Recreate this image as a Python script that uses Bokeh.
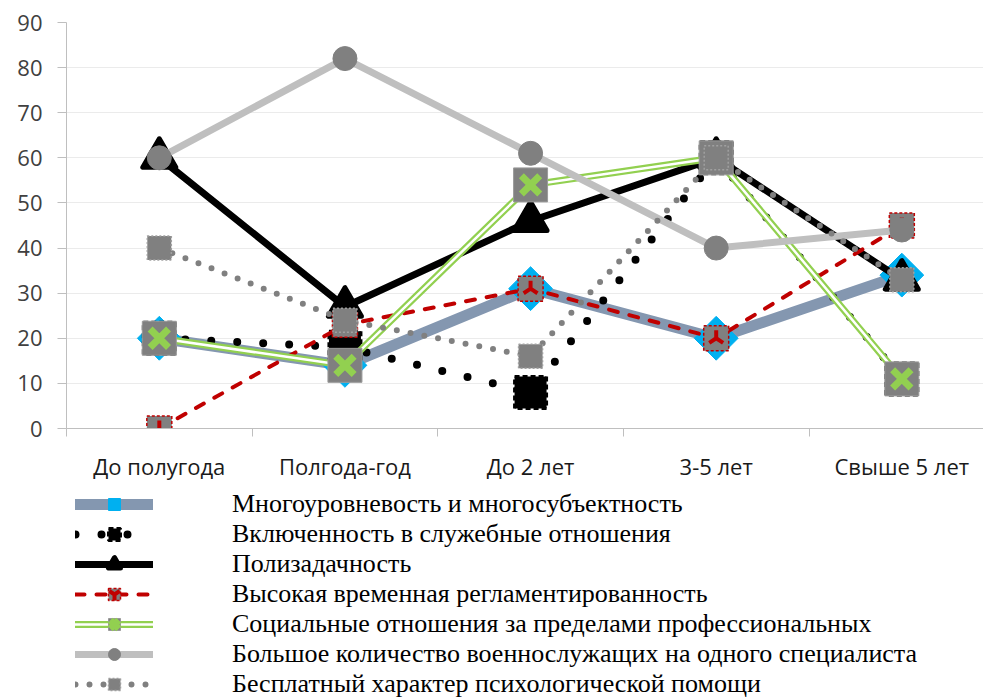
import numpy as np
from bokeh.plotting import figure
from bokeh.layouts import column
from bokeh.models import Range1d, FixedTicker, Legend, LegendItem
from bokeh.embed import file_html
from bokeh.resources import INLINE

categories = ["До полугода", "Полгода-год", "До 2 лет", "3-5 лет", "Свыше 5 лет"]
multi = [20, 14, 31, 20, 34]
incl = [20, 18, 8, 60, 11]
poly = [60, 27, 46, 60, 33]
timereg = [0, 23, 31, 20, 45]
social = [20, 14, 54, 60, 11]
many = [60, 82, 61, 40, 44]
free = [40, 24, 16, 60, 33]
series_names = [
    "Многоуровневость и многосубъектность",
    "Включенность в служебные отношения",
    "Полизадачность",
    "Высокая временная регламентированность",
    "Социальные отношения за пределами профессиональных",
    "Большое количество военнослужащих на одного специалиста",
    "Бесплатный характер психологической помощи",
]
y_ticks = [0, 10, 20, 30, 40, 50, 60, 70, 80, 90]

x = list(range(len(categories)))


def draw_series(f):
    r1l = f.line(x, multi, line_color="#8497B0", line_width=11, line_cap="round", line_join="round")
    r1m = f.scatter(x, multi, marker="square", angle=np.pi / 4, size=31,
                    fill_color="#00B0F0", line_color="#00B0F0")
    r2l = f.line(x, incl, line_color="black", line_width=8, line_dash="0 26", line_cap="round")
    r2m = f.scatter(x, incl, marker="square", size=32, fill_color="black", line_color="black",
                    line_width=3, line_dash="5 3")
    r3l = f.line(x, poly, line_color="black", line_width=7, line_cap="round", line_join="round")
    r3m = f.scatter(x, poly, marker="triangle", size=33, fill_color="black", line_color="black",
                    line_width=5, line_join="round")
    r4l = f.line(x, timereg, line_color="#C00000", line_width=4, line_dash="9 12", line_cap="round")
    r4m = f.scatter(x, timereg, marker="square", size=25, fill_color="#808080", line_color="#C00000",
                    line_width=1.5, line_dash="3 2")
    r4c = f.scatter(x, timereg, marker="y", angle=np.pi, size=16, line_color="#C00000", line_width=4)
    r5g = f.line(x, social, line_color="#92D050", line_width=7, line_cap="round", line_join="round")
    r5w = f.line(x, social, line_color="white", line_width=2.5, line_cap="round", line_join="round")
    r5m = f.scatter(x, social, marker="square", size=34, fill_color="#808080", line_color="#9A9A9A",
                    line_width=1)
    r5x = f.scatter(x, social, marker="x", size=26, line_color="#92D050", line_width=7)
    r6l = f.line(x, many, line_color="#BFBFBF", line_width=7, line_cap="round", line_join="round")
    r6m = f.scatter(x, many, marker="circle", size=24, fill_color="#808080", line_color="#808080")
    r7l = f.line(x, free, line_color="#808080", line_width=6, line_dash="0 14", line_cap="round")
    r7m = f.scatter(x, free, marker="square", size=24, fill_color="#808080", line_color="#A0A0A0",
                    line_width=1.5, line_dash="2 2")
    return [[r1l, r1m], [r2l, r2m], [r3l, r3m], [r4l, r4m, r4c], [r5g, r5w, r5m, r5x],
            [r6l, r6m], [r7l, r7m]]


# ---- main chart ----
main = figure(width=983, height=483, output_backend="svg", toolbar_location=None,
              x_range=Range1d(-0.5, 4.44), y_range=Range1d(0, 90),
              min_border_left=66, min_border_right=0, min_border_top=22,
              min_border_bottom=54)
main.outline_line_color = None
main.background_fill_color = "white"
main.border_fill_color = "white"
draw_series(main)

xa = main.xaxis[0]
xa.ticker = FixedTicker(ticks=x, minor_ticks=[i - 0.5 for i in range(len(categories) + 1)])
xa.major_label_overrides = {i: c for i, c in enumerate(categories)}
xa.major_tick_in = 0
xa.major_tick_out = 0
xa.minor_tick_in = 0
xa.minor_tick_out = 8
xa.minor_tick_line_color = "#BFBFBF"
xa.axis_line_color = "#BFBFBF"
xa.major_label_standoff = 14
xa.major_label_text_font = "Open Sans"
xa.major_label_text_font_size = "22px"
xa.major_label_text_color = "#1a1a1a"

ya = main.yaxis[0]
ya.ticker = FixedTicker(ticks=y_ticks)
ya.major_tick_in = 0
ya.major_tick_out = 9
ya.minor_tick_line_color = None
ya.major_tick_line_color = "#BFBFBF"
ya.axis_line_color = "#BFBFBF"
ya.major_label_standoff = 15
ya.major_label_text_font = "Open Sans"
ya.major_label_text_font_size = "22px"
ya.major_label_text_color = "#404040"

main.xgrid.visible = False
main.ygrid.ticker = FixedTicker(ticks=y_ticks)
main.ygrid.grid_line_color = "#EBEBEB"
main.ygrid.grid_line_width = 1

# ---- legend strip (same series, kept out of its view; only the legend shows) ----
leg = figure(width=983, height=216, output_backend="svg", toolbar_location=None,
             x_range=Range1d(100, 101), y_range=Range1d(100, 101),
             x_axis_type=None, y_axis_type=None,
             min_border_left=0, min_border_right=0, min_border_top=0, min_border_bottom=0)
leg.outline_line_color = None
leg.xgrid.visible = False
leg.ygrid.visible = False
groups = draw_series(leg)
items = [LegendItem(label=n, renderers=g) for n, g in zip(series_names, groups)]
legend = Legend(items=items, location=(9, 0), orientation="vertical",
                glyph_width=78, glyph_height=30, label_height=30, label_standoff=79,
                spacing=0, padding=0, margin=0, border_line_alpha=0,
                background_fill_alpha=0, label_text_font="Liberation Serif",
                label_text_font_size="26px", label_text_color="black",
                label_text_baseline="middle")
leg.add_layout(legend)

p = column(main, leg, spacing=0)
open("out.html", "w").write(file_html(p, INLINE))
